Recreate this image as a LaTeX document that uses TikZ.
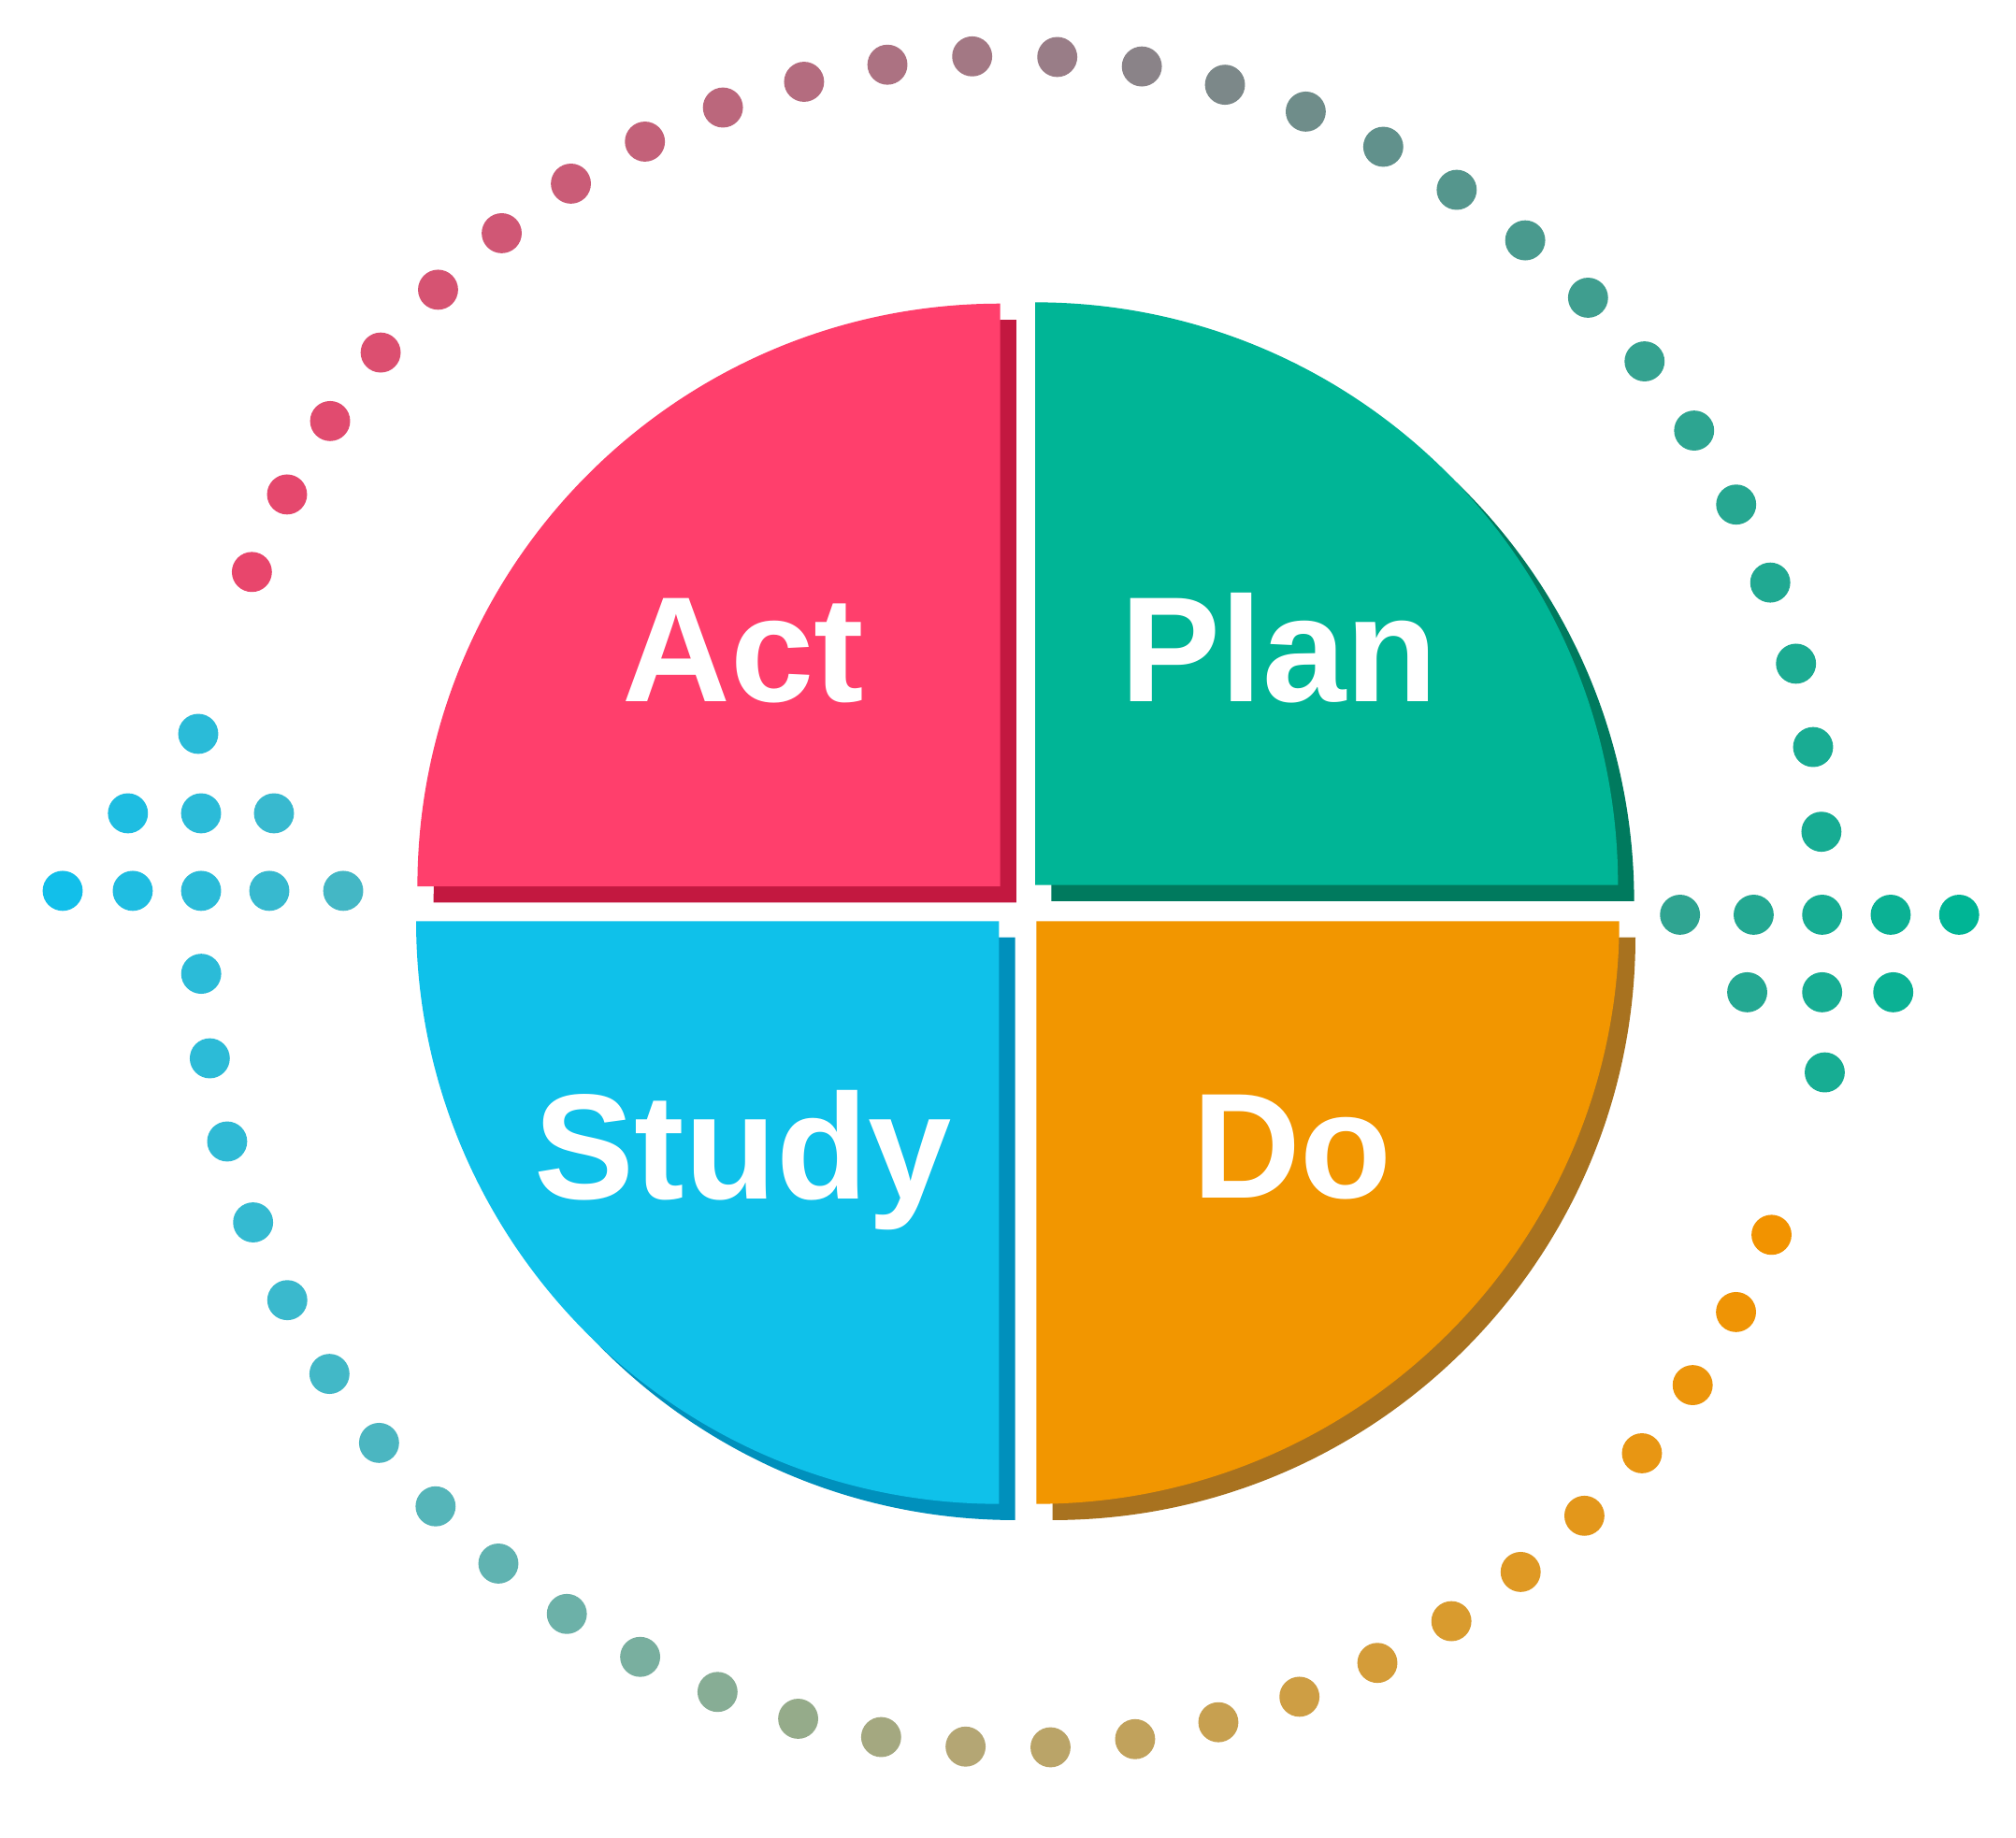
\documentclass[tikz,border=0pt]{standalone}
\usepackage{fontspec}
\setmainfont{Liberation Sans}
\usepackage{tikz}

\definecolor{actface}{HTML}{FF3F6C}
\definecolor{actdark}{HTML}{C31840}
\definecolor{planface}{HTML}{00B596}
\definecolor{plandark}{HTML}{007A5E}
\definecolor{studyface}{HTML}{0FC1EA}
\definecolor{studydark}{HTML}{0090BC}
\definecolor{doface}{HTML}{F29600}
\definecolor{dodark}{HTML}{A8721F}

\definecolor{toppink}{HTML}{E8466C}
\definecolor{topmid}{HTML}{9F7B86}
\definecolor{topteal}{HTML}{00B595}
\definecolor{botcyan}{HTML}{12BFEA}
\definecolor{botmid}{HTML}{B4A674}
\definecolor{botorange}{HTML}{F29300}

% one dot, coloured by its x position: #3 -> #4 -> #5 between x=#6 and x=#7, middle at #8
\newcommand{\gradot}[8]{%
  \pgfmathsetmacro\dotfrac{max(0,min(1,(#1-#6)/(#7-#6)))}%
  \ifdim\dotfrac pt<#8pt
    \pgfmathsetmacro\dotpct{100*\dotfrac/#8}%
    \colorlet{dotcol}{#4!\dotpct!#3}%
  \else
    \pgfmathsetmacro\dotpct{100*(\dotfrac-#8)/(1-#8)}%
    \colorlet{dotcol}{#5!\dotpct!#4}%
  \fi
  \fill[dotcol] (#1,#2) circle[radius=15.5];
}
\newcommand{\topdot}[2]{\gradot{#1}{#2}{toppink}{topmid}{topteal}{195}{1516}{0.45}}
\newcommand{\botdot}[2]{\gradot{#1}{#2}{botcyan}{botmid}{botorange}{48.5}{1371}{0.53}}

\begin{document}
\begin{tikzpicture}[x=0.01cm,y=0.01cm,
  phase/.style={text=white,font=\fontsize{33}{40}\selectfont\bfseries,anchor=base,inner sep=0pt}]
\fill[white] (0,0) rectangle (1560,1422.5);

% the four quarters, shadow first
\foreach \cx/\cy/\sa/\fc/\sc in {774/736.5/90/actface/actdark,
                                801/737.5/0/planface/plandark,
                                773/709.5/180/studyface/studydark,
                                802/709.5/270/doface/dodark} {
  \fill[\sc,shift={(12.5,-12.5)}] (\cx,\cy) -- ++(\sa:451) arc[start angle=\sa,end angle=\sa+90,radius=451] -- cycle;
  \fill[\fc] (\cx,\cy) -- ++(\sa:451) arc[start angle=\sa,end angle=\sa+90,radius=451] -- cycle;
}

\node[phase] (act) at (575,879.5) {Act};
\node[phase] (plan) at (990,879.5) {Plan};
\node[phase] (study) at (575,494.5) {Study};
\node[phase] (do) at (1000,495.5) {Do};

% upper dotted arc, arrow pointing down on the right
\foreach \k in {0,...,26} {
  \pgfmathsetmacro\a{158.6-6*\k}
  \pgfmathsetmacro\px{780.8+629.3*cos(\a)}
  \pgfmathsetmacro\py{750.2+629.3*sin(\a)}
  \topdot{\px}{\py}
}
\foreach \px/\py in {1300/714.5,1357/714.5,1410/714.5,1463/714.5,1516/714.5,
                     1352/654.5,1410/654.5,1465/654.5,1412/592.5}
  \topdot{\px}{\py};

% lower dotted arc, arrow pointing up on the left
\foreach \k in {0,...,26} {
  \pgfmathsetmacro\a{-21.7-5.98*\k}
  \pgfmathsetmacro\px{785.2+630.3*cos(\a)}
  \pgfmathsetmacro\py{699.8+630.3*sin(\a)}
  \botdot{\px}{\py}
}
\foreach \px/\py in {48.5/733,102.7/733,155.6/733,208.4/733,265.6/733,
                     99/793,155.6/793,212/793,153.4/854.5}
  \botdot{\px}{\py};
\end{tikzpicture}
\end{document}
